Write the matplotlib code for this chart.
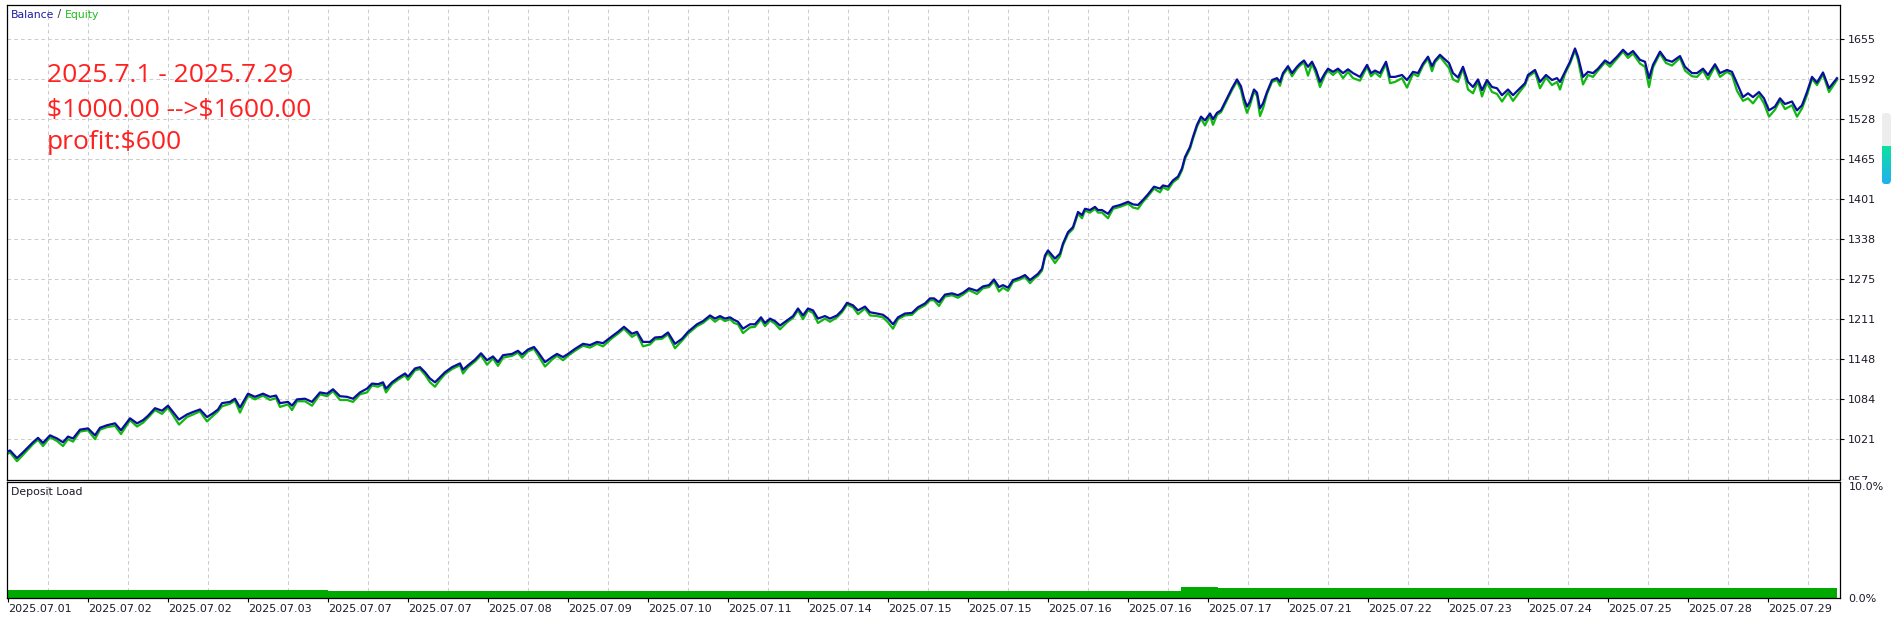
import matplotlib
matplotlib.use("Agg")
import matplotlib.pyplot as plt
import numpy as np
from matplotlib.patches import Rectangle, FancyBboxPatch

# ---- data (trade index vs. account balance in $) ----
trade_a = [0, 3, 10, 16, 26, 31, 36, 43, 50, 56, 61, 66, 73, 81, 88, 93, 100, 108, 114, 123,
           130, 136, 141, 148, 155, 161, 166, 172, 180, 186, 193, 200, 206, 211, 215, 223, 228, 233, 241, 248,
           256, 263, 269, 273, 281, 285, 290, 298, 305, 313, 320, 326, 333, 340, 346, 353]
balance_a = [1001, 1003, 991, 1000, 1016, 1023, 1015, 1027, 1022, 1016, 1025, 1022, 1036, 1038, 1027, 1039, 1043, 1046, 1035, 1054,
             1046, 1051, 1058, 1070, 1066, 1074, 1064, 1052, 1060, 1064, 1068, 1056, 1062, 1068, 1078, 1080, 1085, 1071, 1093, 1088,
             1093, 1088, 1090, 1078, 1080, 1074, 1084, 1085, 1080, 1095, 1093, 1100, 1089, 1088, 1085, 1095]
trade_b = [360, 365, 371, 376, 379, 385, 391, 398, 401, 408, 413, 418, 423, 428, 433, 438, 445, 453, 456, 461,
           468, 474, 480, 486, 491, 496, 505, 511, 515, 521, 527, 531, 538, 545, 550, 556, 561, 568, 576, 583,
           590, 596, 605, 611, 617, 625, 630, 636, 643, 648, 655, 661, 668, 675, 681, 690, 696, 703, 708, 713,
           718, 723, 727]
balance_b = [1101, 1109, 1108, 1111, 1101, 1111, 1118, 1125, 1120, 1133, 1135, 1127, 1117, 1111, 1119, 1127, 1135, 1141, 1131, 1138,
             1147, 1157, 1146, 1152, 1143, 1154, 1156, 1161, 1155, 1163, 1167, 1159, 1143, 1151, 1156, 1151, 1156, 1164, 1172, 1170,
             1175, 1173, 1184, 1191, 1199, 1188, 1191, 1175, 1175, 1182, 1183, 1190, 1172, 1180, 1191, 1203, 1208, 1217, 1212, 1216,
             1212, 1214, 1210]
trade_c = [731, 736, 743, 748, 754, 758, 763, 768, 773, 780, 786, 791, 796, 801, 806, 811, 818, 823, 830, 835,
           840, 846, 851, 858, 863, 870, 876, 881, 886, 891, 898, 905, 911, 918, 923, 927, 932, 938, 945, 951,
           956, 962, 970, 976, 982, 987, 992, 996, 1001, 1006, 1013, 1018, 1023, 1027, 1031, 1035, 1038, 1041, 1048, 1053,
           1056, 1061, 1066, 1071, 1075, 1078, 1083, 1088, 1091]
balance_c = [1207, 1196, 1203, 1203, 1214, 1205, 1212, 1208, 1201, 1209, 1216, 1228, 1217, 1228, 1225, 1212, 1216, 1212, 1217, 1225,
             1237, 1233, 1225, 1231, 1222, 1220, 1218, 1212, 1203, 1214, 1220, 1221, 1230, 1236, 1244, 1244, 1238, 1250, 1252, 1249,
             1253, 1260, 1256, 1263, 1265, 1274, 1262, 1265, 1261, 1273, 1277, 1281, 1273, 1278, 1283, 1291, 1312, 1320, 1307, 1315,
             1331, 1349, 1357, 1381, 1376, 1386, 1384, 1389, 1384]
trade_d = [1095, 1101, 1106, 1113, 1121, 1126, 1131, 1136, 1141, 1147, 1153, 1156, 1161, 1166, 1171, 1175, 1178, 1183, 1186, 1190,
           1194, 1198, 1203, 1206, 1210, 1214, 1220, 1225, 1230, 1234, 1237, 1240, 1243, 1247, 1250, 1253, 1256, 1260, 1265, 1270,
           1273, 1276, 1281, 1285, 1290, 1293, 1297, 1301, 1305, 1309, 1313, 1318, 1321, 1326, 1331, 1336, 1341, 1346, 1353, 1360,
           1364, 1368, 1373, 1379, 1383, 1388, 1395, 1400, 1406, 1411, 1416, 1421, 1425, 1428, 1433, 1437, 1442, 1446, 1451, 1456]
balance_d = [1384, 1378, 1389, 1392, 1397, 1393, 1392, 1400, 1409, 1421, 1418, 1423, 1421, 1431, 1437, 1450, 1468, 1484, 1500, 1519,
             1532, 1526, 1537, 1528, 1538, 1542, 1561, 1577, 1591, 1580, 1561, 1548, 1556, 1575, 1570, 1545, 1553, 1571, 1590, 1593,
             1587, 1601, 1612, 1601, 1611, 1616, 1621, 1611, 1619, 1606, 1587, 1601, 1608, 1603, 1608, 1601, 1607, 1601, 1595, 1614,
             1601, 1605, 1601, 1619, 1595, 1595, 1598, 1590, 1603, 1601, 1616, 1627, 1612, 1621, 1630, 1624, 1617, 1601, 1594, 1611]
trade_e = [1461, 1466, 1471, 1475, 1480, 1485, 1490, 1495, 1501, 1506, 1513, 1518, 1521, 1528, 1533, 1539, 1545, 1550, 1553, 1558,
           1563, 1568, 1571, 1576, 1581, 1586, 1591, 1598, 1603, 1610, 1616, 1621, 1626, 1633, 1638, 1642, 1646, 1653, 1659, 1665,
           1673, 1678, 1685, 1690, 1696, 1701, 1708, 1713, 1720, 1725, 1730, 1736, 1741, 1746, 1752, 1757, 1762, 1768, 1773, 1778,
           1785, 1790, 1795, 1800, 1805, 1810, 1816, 1822, 1830]
balance_e = [1587, 1579, 1591, 1574, 1590, 1579, 1577, 1566, 1575, 1566, 1577, 1585, 1598, 1606, 1587, 1598, 1590, 1593, 1587, 1603,
             1619, 1640, 1627, 1595, 1603, 1601, 1608, 1621, 1616, 1627, 1638, 1630, 1636, 1622, 1619, 1593, 1614, 1635, 1622, 1619,
             1628, 1611, 1601, 1601, 1608, 1598, 1615, 1601, 1606, 1603, 1585, 1563, 1569, 1563, 1571, 1561, 1542, 1548, 1561, 1552,
             1556, 1542, 1550, 1571, 1595, 1586, 1602, 1577, 1593]

# floating drawdown (balance - equity) at the same points
drawdown_a = [4, 3, 5, 4, 3, 3, 5, 3, 4, 6, 4, 5, 3, 3, 6, 3, 3, 4, 6, 3,
              5, 4, 3, 3, 5, 3, 5, 8, 4, 4, 3, 7, 4, 3, 5, 3, 3, 8, 3, 4,
              3, 5, 4, 6, 4, 7, 3, 4, 6, 3, 4, 3, 6, 5, 5, 3]
drawdown_b = [6, 3, 4, 3, 6, 3, 3, 3, 5, 3, 3, 4, 6, 7, 4, 3, 3, 3, 6, 3,
              3, 3, 7, 3, 6, 4, 3, 3, 5, 3, 3, 5, 7, 4, 3, 5, 3, 3, 3, 4,
              3, 5, 3, 3, 3, 5, 3, 7, 4, 3, 3, 3, 7, 3, 3, 3, 3, 3, 5, 3,
              4, 3, 5]
drawdown_c = [4, 7, 5, 4, 3, 5, 3, 4, 6, 3, 3, 3, 6, 3, 4, 7, 4, 5, 3, 3,
              3, 3, 6, 3, 5, 4, 4, 6, 7, 3, 3, 3, 3, 3, 3, 3, 6, 3, 3, 4,
              3, 3, 5, 3, 3, 3, 7, 4, 5, 3, 3, 3, 5, 3, 3, 3, 3, 3, 7, 4,
              3, 3, 3, 3, 5, 3, 4, 3, 4]
drawdown_d = [4, 7, 3, 3, 3, 5, 6, 3, 3, 3, 6, 3, 5, 3, 3, 3, 3, 3, 3, 3,
              3, 8, 3, 9, 3, 3, 3, 3, 3, 6, 8, 10, 6, 3, 5, 12, 8, 3, 3, 3,
              6, 3, 3, 5, 3, 3, 3, 14, 3, 6, 8, 3, 3, 5, 3, 8, 4, 8, 6, 3,
              5, 3, 6, 3, 10, 8, 5, 12, 3, 5, 3, 3, 8, 3, 3, 5, 8, 10, 7, 3]
drawdown_e = [12, 10, 3, 10, 4, 8, 9, 10, 5, 9, 5, 3, 3, 3, 10, 4, 8, 6, 12, 3,
              3, 3, 5, 12, 5, 6, 3, 3, 5, 3, 3, 5, 4, 6, 8, 14, 4, 3, 5, 6,
              3, 6, 5, 6, 3, 7, 3, 6, 3, 5, 12, 6, 8, 10, 5, 8, 10, 5, 3, 8,
              6, 10, 5, 5, 3, 4, 3, 6, 3]

# deposit load (%) as steps between trade indexes
load_edges = [0, 321, 1174, 1211, 1830]
load_pct = [0.69, 0.57, 0.95, 0.84]

y_ticks = [957, 1021, 1084, 1148, 1211, 1275, 1338, 1401, 1465, 1528, 1592, 1655]
y_labels = [str(v) for v in y_ticks]
date_labels = ["2025.07.01", "2025.07.02", "2025.07.02", "2025.07.03", "2025.07.07", "2025.07.07",
               "2025.07.08", "2025.07.09", "2025.07.10", "2025.07.11", "2025.07.14", "2025.07.15",
               "2025.07.15", "2025.07.16", "2025.07.16", "2025.07.17", "2025.07.21", "2025.07.22",
               "2025.07.23", "2025.07.24", "2025.07.25", "2025.07.28", "2025.07.29"]
note_lines = ["2025.7.1 - 2025.7.29", "$1000.00 -->$1600.00", "profit:$600"]

trade = np.array(trade_a + trade_b + trade_c + trade_d + trade_e)
balance = np.array(balance_a + balance_b + balance_c + balance_d + balance_e, dtype=float)
equity = balance - np.array(drawdown_a + drawdown_b + drawdown_c + drawdown_d + drawdown_e)

# ---- layout (pixel helpers) ----
W, H = 1895, 617
plt.rcParams["font.family"] = "DejaVu Sans"
BLUE = "#0a0e9e"
GREEN = "#10b810"
GRID = "#cccccc"
TXT = "#1a1a2a"
XMAX = 1833
DASH = (0, (3.5, 3))


def box(x0, y0, x1, y1):
    return [x0 / W, 1 - y1 / H, (x1 - x0) / W, (y1 - y0) / H]


fig = plt.figure(figsize=(W / 100, H / 100), dpi=100)
ax = fig.add_axes(box(7, 4.5, 1840, 479.5))
ax2 = fig.add_axes(box(7, 482, 1840, 598))
ax2.set_zorder(5)

# main balance / equity panel
ax.plot(trade, equity, color=GREEN, lw=1.6, zorder=2)
ax.plot(trade, balance, color=BLUE, lw=1.6, zorder=3)
ax.set_xlim(0, XMAX)
ax.set_ylim(957, 1709.7)
ax.yaxis.tick_right()
ax.set_yticks(y_ticks, y_labels)
ax.set_xticks(np.arange(41, XMAX, 40))
ax.tick_params(axis="x", length=0, labelbottom=False)
ax.tick_params(axis="y", direction="out", length=3, width=0.8, pad=2.5,
               labelsize=8, labelcolor=TXT)
ax.set_axisbelow(True)
ax.grid(True, color=GRID, lw=0.75, linestyle=DASH)
for sp in ax.spines.values():
    sp.set_linewidth(0.9)

# deposit load panel
ax2.stairs(load_pct, load_edges, fill=True, color="#00aa00", lw=0)
ax2.set_xlim(0, XMAX)
ax2.set_ylim(0, 10)
ax2.yaxis.tick_right()
ax2.set_yticks([0, 10], ["0.0%", "10.0%"])
ax2.tick_params(axis="y", length=0, pad=6, labelsize=8, labelcolor=TXT)
ax2.get_yticklabels()[1].set_va("top")
ax2.set_xticks(np.arange(len(date_labels)) * 80 + 1, date_labels)
for lbl in ax2.get_xticklabels():
    lbl.set_ha("left")
ax2.set_xticks(np.arange(41, XMAX, 40), minor=True)
ax2.tick_params(axis="x", which="major", direction="out", length=3, width=0.8, pad=1.5,
                labelsize=8, labelcolor=TXT)
ax2.tick_params(axis="x", which="minor", length=0)
ax2.grid(True, which="minor", axis="x", color=GRID, lw=0.75, linestyle=DASH)
ax2.grid(False, which="major")
ax2.set_axisbelow(True)
for sp in ax2.spines.values():
    sp.set_linewidth(0.9)

# white strip between panels (cuts the lowest price label like the terminal does)
fig.add_artist(Rectangle((1841 / W, 1 - 486 / H), (W - 1841) / W, 6.5 / H,
                         transform=fig.transFigure, color="white", zorder=3))

# captions
t1 = fig.text(11 / W, 1 - 14.5 / H, "Balance", color="#1c1ca0", fontsize=7.8, va="center")
t2 = ax.annotate(" / ", xy=(1, 0), xycoords=t1, va="bottom", ha="left",
                 color="#303050", fontsize=7.8)
ax.annotate("Equity", xy=(1, 0), xycoords=t2, va="bottom", ha="left",
            color="#1cbf1c", fontsize=7.8)
fig.text(11 / W, 1 - 491.7 / H, "Deposit Load", color=TXT, fontsize=7.8, va="center", zorder=6)

for line, base in zip(note_lines, [82, 117, 149]):
    fig.text(47 / W, 1 - base / H, line, color="#ff2020", fontsize=19,
             family="Open Sans", va="baseline", parse_math=False)

# scroll gadget on the right edge
gax = fig.add_axes(box(1881.7, 112.7, 1891, 184.3))
gax.set_axis_off()
rows = 72
top_rows = 34
img = np.ones((rows, 1, 3))
img[:top_rows] = np.array([0.93, 0.93, 0.93])
frac = np.linspace(0, 1, rows - top_rows)[:, None]
c0 = np.array([0.05, 0.88, 0.62])
c1 = np.array([0.13, 0.69, 0.95])
img[top_rows:, 0, :] = c0 * (1 - frac) + c1 * frac
im = gax.imshow(img, aspect="auto", extent=(0, 1, 0, 1))
clip = FancyBboxPatch((0, 0), 1, 1, boxstyle="round,pad=0,rounding_size=0.5",
                      mutation_aspect=9.3 / 71.6, transform=gax.transAxes,
                      facecolor="none", edgecolor="none")
gax.add_patch(clip)
im.set_clip_path(clip)

fig.savefig("out.png", dpi=100)
